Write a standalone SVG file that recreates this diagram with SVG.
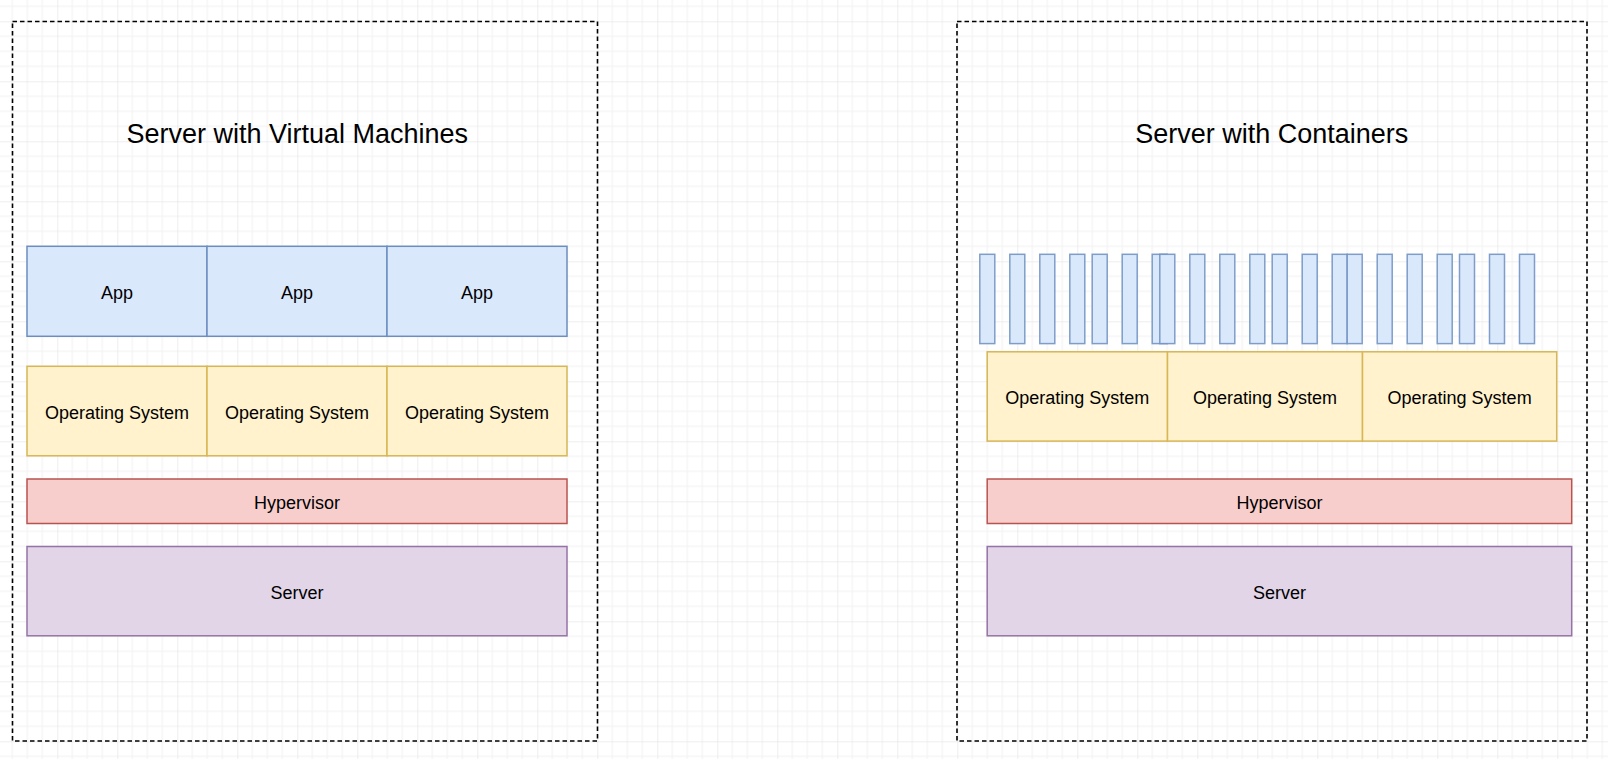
<svg xmlns="http://www.w3.org/2000/svg" width="1608" height="759" viewBox="0 0 1608 759">
  <defs>
    <pattern id="grid" x="-2.7" y="21.3" width="60" height="60" patternUnits="userSpaceOnUse">
      <path d="M15 0V60M30 0V60M45 0V60M0 15H60M0 30H60M0 45H60" stroke="#f1f1f1" stroke-width="1" fill="none"/>
      <path d="M0 0V60M0 0H60" stroke="#dedede" stroke-width="1" fill="none"/>
    </pattern>
    <style>
      .frame { fill: none; stroke: #000; stroke-width: 1.6; stroke-dasharray: 4.5 3; }
      .title { font-family: "Liberation Sans", Arial, sans-serif; font-size: 27px; fill: #000; text-anchor: middle; }
      .lbl { font-family: "Liberation Sans", Arial, sans-serif; font-size: 18px; fill: #000; text-anchor: middle; }
      .app { fill: #dae8fc; stroke: #6c8ebf; stroke-width: 1.5; }
      .ctr { fill: #dae8fc; stroke: #6c8ebf; stroke-width: 1.5; stroke-opacity: 0.85; }
      .os { fill: #fff2cc; stroke: #d6b656; stroke-width: 1.5; }
      .hyp { fill: #f8cecc; stroke: #b85450; stroke-width: 1.5; }
      .srv { fill: #e1d5e7; stroke: #9673a6; stroke-width: 1.5; }
    </style>
  </defs>
  <rect width="1608" height="759" fill="#ffffff"/>
  <rect width="1608" height="759" fill="url(#grid)"/>

  <!-- Left: Server with Virtual Machines -->
  <g id="vm-frame">
    <rect class="frame" x="12.5" y="21.5" width="585" height="719.5"/>
    <text class="title" x="297.3" y="143.3">Server with Virtual Machines</text>
  </g>
  <g id="vm-app-1"><rect class="app" x="27" y="246.3" width="180" height="90"/><text class="lbl" x="117" y="299.3">App</text></g>
  <g id="vm-app-2"><rect class="app" x="207" y="246.3" width="180" height="90"/><text class="lbl" x="297" y="299.3">App</text></g>
  <g id="vm-app-3"><rect class="app" x="387" y="246.3" width="180" height="90"/><text class="lbl" x="477" y="299.3">App</text></g>
  <g id="vm-os-1"><rect class="os" x="27" y="366.3" width="180" height="89.5"/><text class="lbl" x="117" y="419">Operating System</text></g>
  <g id="vm-os-2"><rect class="os" x="207" y="366.3" width="180" height="89.5"/><text class="lbl" x="297" y="419">Operating System</text></g>
  <g id="vm-os-3"><rect class="os" x="387" y="366.3" width="180" height="89.5"/><text class="lbl" x="477" y="419">Operating System</text></g>
  <g id="vm-hypervisor"><rect class="hyp" x="27" y="479" width="540" height="44.5"/><text class="lbl" x="297" y="509">Hypervisor</text></g>
  <g id="vm-server"><rect class="srv" x="27" y="546.5" width="540" height="89.3"/><text class="lbl" x="297" y="599">Server</text></g>

  <!-- Right: Server with Containers -->
  <g id="ct-frame">
    <rect class="frame" x="957" y="21.5" width="630" height="719.5"/>
    <text class="title" x="1271.7" y="143.3">Server with Containers</text>
  </g>
  <g id="containers">
    <rect class="ctr" x="979.8" y="254.3" width="15" height="89.3"/>
    <rect class="ctr" x="1009.8" y="254.3" width="15" height="89.3"/>
    <rect class="ctr" x="1039.8" y="254.3" width="15" height="89.3"/>
    <rect class="ctr" x="1069.8" y="254.3" width="15" height="89.3"/>
    <rect class="ctr" x="1092.2" y="254.3" width="15" height="89.3"/>
    <rect class="ctr" x="1122.2" y="254.3" width="15" height="89.3"/>
    <rect class="ctr" x="1152.2" y="254.3" width="15" height="89.3"/>
    <rect class="ctr" x="1159.8" y="254.3" width="15" height="89.3"/>
    <rect class="ctr" x="1189.8" y="254.3" width="15" height="89.3"/>
    <rect class="ctr" x="1219.8" y="254.3" width="15" height="89.3"/>
    <rect class="ctr" x="1249.8" y="254.3" width="15" height="89.3"/>
    <rect class="ctr" x="1272.2" y="254.3" width="15" height="89.3"/>
    <rect class="ctr" x="1302.2" y="254.3" width="15" height="89.3"/>
    <rect class="ctr" x="1332.2" y="254.3" width="15" height="89.3"/>
    <rect class="ctr" x="1347.2" y="254.3" width="15" height="89.3"/>
    <rect class="ctr" x="1377.2" y="254.3" width="15" height="89.3"/>
    <rect class="ctr" x="1407.2" y="254.3" width="15" height="89.3"/>
    <rect class="ctr" x="1437.2" y="254.3" width="15" height="89.3"/>
    <rect class="ctr" x="1459.5" y="254.3" width="15" height="89.3"/>
    <rect class="ctr" x="1489.5" y="254.3" width="15" height="89.3"/>
    <rect class="ctr" x="1519.5" y="254.3" width="15" height="89.3"/>
  </g>
  <g id="ct-os-1"><rect class="os" x="987.2" y="351.8" width="180.3" height="89.3"/><text class="lbl" x="1077.3" y="404.3">Operating System</text></g>
  <g id="ct-os-2"><rect class="os" x="1167.5" y="351.8" width="195" height="89.3"/><text class="lbl" x="1265" y="404.3">Operating System</text></g>
  <g id="ct-os-3"><rect class="os" x="1362.5" y="351.8" width="194.2" height="89.3"/><text class="lbl" x="1459.6" y="404.3">Operating System</text></g>
  <g id="ct-hypervisor"><rect class="hyp" x="987.2" y="479" width="584.5" height="44.5"/><text class="lbl" x="1279.5" y="509">Hypervisor</text></g>
  <g id="ct-server"><rect class="srv" x="987.2" y="546.5" width="584.5" height="89.3"/><text class="lbl" x="1279.5" y="599">Server</text></g>

  <g id="connectors"/>
</svg>
